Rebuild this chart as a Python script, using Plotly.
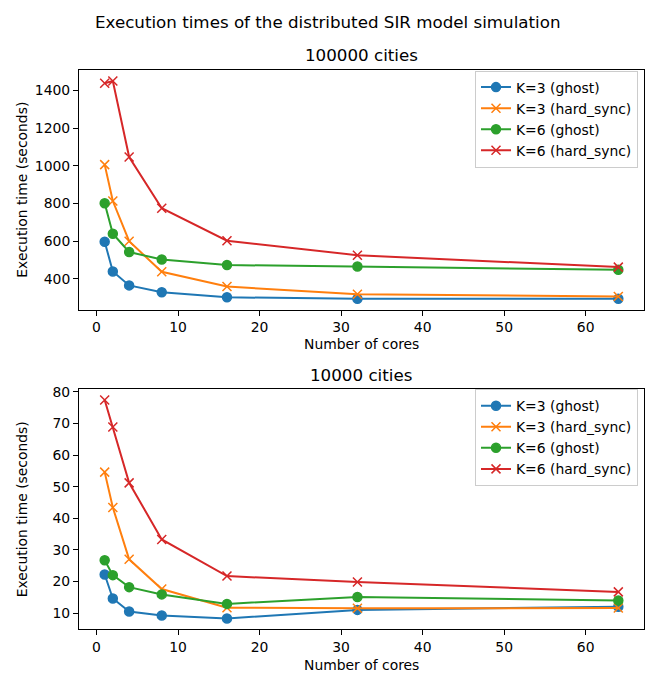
import plotly.graph_objects as go

cores = [1, 2, 4, 8, 16, 32, 64]
series_names = ["K=3 (ghost)", "K=3 (hard_sync)", "K=6 (ghost)", "K=6 (hard_sync)"]

big_k3_ghost = [597, 440, 366, 330, 303, 295, 295]
big_k3_hard = [1006, 813, 600, 438, 360, 319, 307]
big_k6_ghost = [801, 640, 543, 503, 474, 466, 449]
big_k6_hard = [1437, 1449, 1046, 775, 603, 526, 463]

small_k3_ghost = [22.2, 14.6, 10.5, 9.2, 8.3, 11.0, 12.0]
small_k3_hard = [54.6, 43.4, 27.0, 17.6, 11.7, 11.5, 11.6]
small_k6_ghost = [26.7, 22.0, 18.2, 15.9, 12.9, 15.1, 14.0]
small_k6_hard = [77.4, 68.9, 51.2, 33.3, 21.7, 19.8, 16.7]

colors = ["#1f77b4", "#ff7f0e", "#2ca02c", "#d62728"]
symbols = ["circle", "x-thin", "circle", "x-thin"]

OFF = 8  # page body margin
W, H = 654 - OFF, 673 - OFF
FONT = "DejaVu Sans"
FS = 13.9
FT = 16.7

def px_x(p):
    return (p - OFF) / W

def px_y(p):
    return 1 - (p - OFF) / H

fig = go.Figure()

top_data = [big_k3_ghost, big_k3_hard, big_k6_ghost, big_k6_hard]
bot_data = [small_k3_ghost, small_k3_hard, small_k6_ghost, small_k6_hard]

for i, (name, vals) in enumerate(zip(series_names, top_data)):
    fig.add_trace(go.Scatter(
        x=cores, y=vals, name=name, mode="lines+markers",
        line=dict(color=colors[i], width=2),
        marker=dict(symbol=symbols[i], size=9,
                    color=colors[i], line=dict(color=colors[i], width=1.5)),
        xaxis="x", yaxis="y", legend="legend",
    ))
for i, (name, vals) in enumerate(zip(series_names, bot_data)):
    fig.add_trace(go.Scatter(
        x=cores, y=vals, name=name, mode="lines+markers",
        line=dict(color=colors[i], width=2),
        marker=dict(symbol=symbols[i], size=9,
                    color=colors[i], line=dict(color=colors[i], width=1.5)),
        xaxis="x2", yaxis="y2", legend="legend2",
    ))

axis_common = dict(
    showgrid=False, zeroline=False, showline=True, linecolor="black", linewidth=1,
    mirror=True, ticks="outside", ticklen=5, tickwidth=1, tickcolor="black",
    tickfont=dict(family=FONT, size=FS, color="black"),
)

xdom = [px_x(79), px_x(644)]
legend_common = dict(xanchor="right", yanchor="top",
                     bgcolor="rgba(255,255,255,0.8)", bordercolor="#cccccc", borderwidth=1,
                     font=dict(family=FONT, size=FS), tracegroupgap=0, itemwidth=30)
fig.update_layout(
    width=W, height=H,
    margin=dict(l=0, r=0, t=0, b=0),
    paper_bgcolor="white", plot_bgcolor="white",
    font=dict(family=FONT, size=FS, color="black"),
    xaxis=dict(domain=xdom, range=[-2.15, 67.15], anchor="y",
               tickvals=[0, 10, 20, 30, 40, 50, 60], **axis_common),
    yaxis=dict(domain=[px_y(307), px_y(65.5)], range=[237, 1507], anchor="x",
               tickvals=[400, 600, 800, 1000, 1200, 1400], **axis_common),
    xaxis2=dict(domain=xdom, range=[-2.15, 67.15], anchor="y2",
                tickvals=[0, 10, 20, 30, 40, 50, 60], **axis_common),
    yaxis2=dict(domain=[px_y(629), px_y(387)], range=[4.85, 80.85], anchor="x2",
                tickvals=[10, 20, 30, 40, 50, 60, 70, 80], **axis_common),
    legend=dict(x=px_x(638), y=px_y(66), **legend_common),
    legend2=dict(x=px_x(638), y=px_y(387), **legend_common),
    showlegend=True,
)

def ann(text, x, y, size=FS, angle=0):
    fig.add_annotation(text=text, x=px_x(x), y=px_y(y), xref="paper", yref="paper",
                       showarrow=False, textangle=angle, xanchor="center", yanchor="middle",
                       font=dict(family=FONT, size=size, color="black"))

ann("Execution times of the distributed SIR model simulation", 327, 17, size=FT)
ann("100000 cities", 361, 50, size=FT)
ann("10000 cities", 361, 373, size=FT)
ann("Number of cores", 361, 342)
ann("Number of cores", 361, 665)
ann("Execution time (seconds)", 22, 186, angle=-90)
ann("Execution time (seconds)", 22, 508, angle=-90)

fig.write_html("out.html")
